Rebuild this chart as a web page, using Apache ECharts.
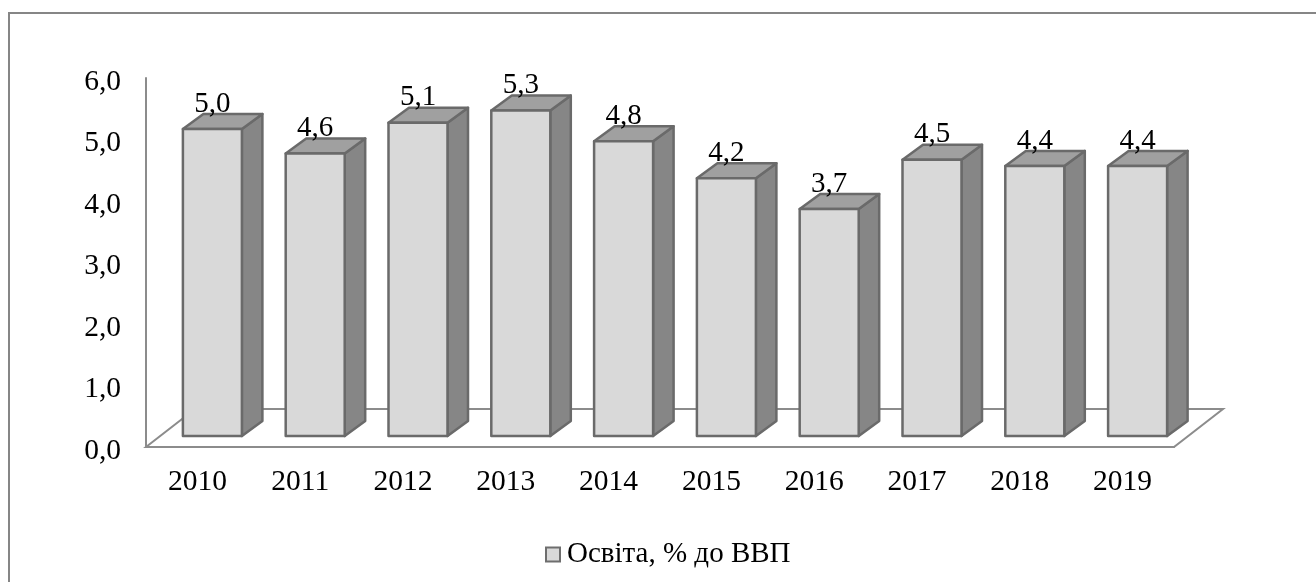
<!DOCTYPE html>
<html><head><meta charset="utf-8">
<style>html,body{margin:0;padding:0;background:#fff}#c{width:1316px;height:582px}</style>
<script src="https://cdn.jsdelivr.net/npm/echarts@6/dist/echarts.min.js"></script>
</head><body><div id="c"></div>
<script>
const categories = ['2010','2011','2012','2013','2014','2015','2016','2017','2018','2019'];
const values = [5.0,4.6,5.1,5.3,4.8,4.2,3.7,4.5,4.4,4.4];
const yTicks = {min:0,max:6,interval:1};
const seriesName = 'Освіта, % до ВВП';
const FONT = '"Liberation Serif","Times New Roman",serif';
const chart = echarts.init(document.getElementById('c'),null,{renderer:'canvas'});
const fmt = v => v.toFixed(1).replace('.',',');
const stroke = '#6a6a6a';
function renderBar(params, api){
  const idx = api.value(0), v = api.value(1);
  const t = api.coord([idx,v]), b = api.coord([idx,0]);
  const fx = 14.5, fy = -11, w = 59, dx = 20.5, dy = -15;
  const l = t[0]+fx-w/2+0.5, r = l+w, top = t[1]+fy+0.5, bot = b[1]+fy;
  const st = (fill)=>({fill, stroke, lineWidth:2.5, lineJoin:'round'});
  return {type:'group',children:[
    {type:'polygon',shape:{points:[[r,top],[r+dx,top+dy],[r+dx,bot+dy],[r,bot]]},style:st('#868686')},
    {type:'polygon',shape:{points:[[l,top],[l+dx,top+dy],[r+dx,top+dy],[r,top]]},style:st('#a0a0a0')},
    {type:'rect',shape:{x:l,y:top,width:w,height:bot-top},style:st('#d9d9d9')},
    {type:'text',style:{x:(l+r)/2,y:top-25,text:fmt(v),font:'29px '+FONT,fill:'#000',align:'center',verticalAlign:'middle'}}
  ]};
}
function renderFloor(params, api){
  if(params.dataIndexInside!==0) return;
  const cs = params.coordSys, x0 = cs.x, x1 = cs.x+cs.width, y = cs.y+cs.height, dx = 49, dy = -38;
  return {type:'polygon',silent:true,shape:{points:[[x0,y],[x0+dx,y+dy],[x1+dx,y+dy],[x1,y]]},
    style:{fill:'none',stroke:'#8c8c8c',lineWidth:2}};
}
chart.setOption({
  animation:false,
  backgroundColor:'#fff',
  graphic:[{type:'rect',z:-10,shape:{x:9,y:13,width:1400,height:700},style:{fill:'none',stroke:'#868686',lineWidth:2}}],
  grid:{left:146,right:142,top:78,bottom:135,containLabel:false},
  legend:{show:true,left:540,top:535,itemWidth:14,itemHeight:14,itemGap:5,icon:'rect',
    data:[{name:seriesName,itemStyle:{color:'#d9d9d9',borderColor:'#6e6e6e',borderWidth:2}}],
    textStyle:{fontFamily:FONT,fontSize:29,color:'#000',padding:[0,0,0,2]}},
  xAxis:{type:'category',data:categories,boundaryGap:true,
    axisLine:{show:true,lineStyle:{color:'#8c8c8c',width:2}},axisTick:{show:false},
    axisLabel:{fontFamily:FONT,fontSize:29.5,color:'#000',margin:20}},
  yAxis:{type:'value',min:yTicks.min,max:yTicks.max,interval:yTicks.interval,
    axisLine:{show:true,lineStyle:{color:'#8c8c8c',width:2}},axisTick:{show:false},splitLine:{show:false},
    axisLabel:{fontFamily:FONT,fontSize:29.5,color:'#000',margin:25,formatter:fmt,verticalAlign:'top',lineHeight:8}},
  series:[
    {type:'custom',name:'floor',coordinateSystem:'cartesian2d',silent:true,z:1,renderItem:renderFloor,
     data:values.map((v,i)=>[i,v]),encode:{x:0,y:1}},
    {type:'custom',name:seriesName,coordinateSystem:'cartesian2d',z:2,renderItem:renderBar,clip:false,
     itemStyle:{color:'#d9d9d9'},data:values.map((v,i)=>[i,v]),encode:{x:0,y:1}}
  ]
});
</script></body></html>
